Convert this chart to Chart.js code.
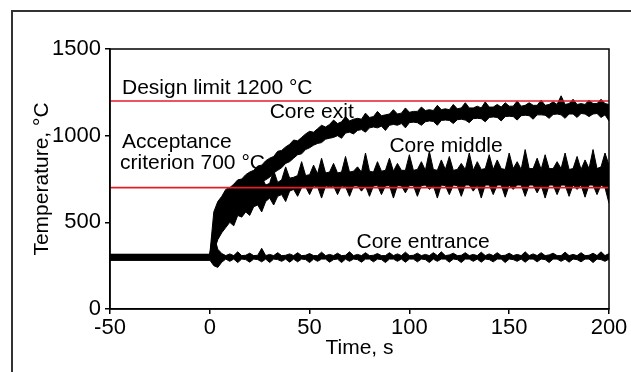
<!DOCTYPE html>
<html>
<head>
<meta charset="utf-8">
<script src="https://cdn.jsdelivr.net/npm/chart.js@4.4.0/dist/chart.umd.min.js"></script>
<style>
  html, body { margin: 0; padding: 0; background: #fff; }
  canvas { display: block; }
</style>
</head>
<body>
<canvas id="chart" width="631" height="372"></canvas>
<script>
// time axis, s (first point is the steady state before the transient)
const time = [
  -50, 0,
  2, 4, 6, 8, 10, 12, 14, 16, 18, 20,
  22, 24, 26, 28, 30, 32, 34, 36, 38, 40,
  42, 44, 46, 48, 50, 52, 54, 56, 58, 60,
  62, 64, 66, 68, 70, 72, 74, 76, 78, 80,
  82, 84, 86, 88, 90, 92, 94, 96, 98, 100,
  102, 104, 106, 108, 110, 112, 114, 116, 118, 120,
  122, 124, 126, 128, 130, 132, 134, 136, 138, 140,
  142, 144, 146, 148, 150, 152, 154, 156, 158, 160,
  162, 164, 166, 168, 170, 172, 174, 176, 178, 180,
  182, 184, 186, 188, 190, 192, 194, 196, 198, 200
];

// upper / lower envelope of the temperature traces, °C
const exitHigh = [
  315, 315,
  560, 620, 650, 690, 700, 720, 745, 750, 775, 790,
  800, 825, 830, 855, 870, 880, 910, 915, 935, 950,
  975, 970, 990, 1010, 1025, 1020, 1040, 1060, 1050, 1065,
  1090, 1070, 1080, 1110, 1085, 1095, 1100, 1095, 1130, 1105,
  1110, 1140, 1115, 1120, 1125, 1150, 1125, 1130, 1160, 1135,
  1140, 1140, 1165, 1145, 1150, 1145, 1175, 1150, 1155, 1150,
  1180, 1155, 1160, 1190, 1160, 1160, 1170, 1160, 1195, 1165,
  1165, 1180, 1165, 1190, 1170, 1170, 1200, 1170, 1175, 1190,
  1175, 1175, 1205, 1175, 1180, 1195, 1180, 1230, 1180, 1185,
  1210, 1180, 1185, 1180, 1205, 1185, 1185, 1210, 1185, 1180
];
const exitLow = [
  282, 282,
  400, 450, 480, 520, 550, 570, 595, 620, 640, 670,
  690, 700, 730, 745, 760, 785, 800, 815, 840, 850,
  870, 890, 895, 920, 930, 945, 955, 960, 980, 985,
  990, 1000, 985, 1015, 1020, 1010, 1030, 1035, 1020, 1045,
  1050, 1045, 1055, 1030, 1060, 1065, 1060, 1070, 1045, 1075,
  1078, 1075, 1060, 1080, 1085, 1082, 1060, 1088, 1090, 1088,
  1070, 1092, 1095, 1090, 1075, 1098, 1100, 1098, 1080, 1105,
  1108, 1105, 1085, 1110, 1112, 1110, 1090, 1115, 1118, 1115,
  1095, 1120, 1120, 1118, 1100, 1122, 1125, 1120, 1100, 1125,
  1125, 1105, 1128, 1125, 1110, 1125, 1128, 1105, 1120, 1085
];
const middleHigh = [
  315, 315,
  470, 530, 560, 610, 600, 660, 640, 700, 670, 730,
  690, 700, 760, 715, 725, 800, 730, 745, 820, 755,
  760, 770, 850, 770, 775, 830, 780, 870, 785, 790,
  840, 785, 790, 880, 790, 795, 820, 790, 900, 795,
  790, 850, 795, 800, 870, 795, 840, 800, 800, 890,
  800, 805, 850, 800, 910, 805, 800, 860, 805, 880,
  800, 805, 840, 805, 900, 800, 850, 805, 810, 890,
  805, 860, 810, 805, 900, 810, 850, 805, 920, 810,
  810, 870, 805, 890, 810, 810, 850, 810, 900, 805,
  810, 880, 805, 860, 810, 920, 810, 820, 900, 830
];
const middleLow = [
  282, 282,
  330, 400, 440, 470, 500, 480, 540, 530, 560, 540,
  590, 600, 560, 620, 640, 600, 650, 660, 620, 680,
  690, 650, 700, 705, 660, 710, 705, 640, 710, 705,
  710, 660, 710, 705, 650, 710, 710, 680, 710, 650,
  710, 712, 660, 710, 712, 640, 712, 710, 670, 712,
  712, 650, 712, 715, 690, 712, 640, 715, 712, 660,
  715, 712, 650, 715, 715, 680, 715, 640, 715, 715,
  660, 715, 715, 645, 715, 690, 715, 715, 650, 715,
  715, 670, 715, 640, 715, 715, 660, 715, 715, 650,
  715, 690, 715, 645, 715, 715, 660, 715, 700, 610
];
const entranceHigh = [
  315, 315,
  430, 345, 320, 308, 318, 308, 330, 308, 310, 322,
  308, 310, 350, 308, 315, 308, 325, 308, 310, 318,
  308, 325, 308, 310, 320, 308, 308, 328, 308, 315,
  308, 322, 308, 310, 330, 308, 315, 308, 325, 308,
  310, 320, 308, 308, 325, 308, 318, 308, 328, 308,
  310, 322, 308, 315, 308, 325, 308, 330, 308, 312,
  322, 308, 310, 325, 308, 315, 308, 328, 308, 318,
  308, 325, 308, 310, 322, 308, 315, 308, 330, 308,
  318, 308, 325, 308, 312, 322, 308, 308, 328, 308,
  315, 308, 325, 308, 310, 322, 308, 330, 308, 320
];
const entranceLow = [
  282, 282,
  250, 240, 270, 288, 275, 288, 268, 288, 285, 270,
  288, 285, 272, 288, 268, 288, 285, 275, 288, 270,
  288, 272, 288, 285, 268, 288, 275, 288, 288, 270,
  285, 288, 268, 288, 275, 288, 285, 270, 288, 288,
  272, 288, 285, 268, 288, 288, 275, 288, 270, 288,
  288, 272, 288, 285, 268, 288, 275, 288, 288, 270,
  288, 285, 268, 288, 288, 275, 288, 270, 288, 285,
  272, 288, 288, 268, 288, 285, 275, 288, 270, 288,
  288, 272, 288, 285, 268, 288, 288, 275, 288, 270,
  288, 285, 272, 288, 288, 268, 288, 285, 275, 288
];

const designLimit = 1200;
const acceptance = 700;

// text notes, anchored in data units (time, temperature)
const notes = [
  { text: 'Design limit 1200 °C', t: -44, v: 1240 },
  { text: 'Core exit', t: 30, v: 1100 },
  { text: 'Acceptance', t: -44, v: 929 },
  { text: 'criterion 700 °C', t: -45, v: 810 },
  { text: 'Core middle', t: 90, v: 908 },
  { text: 'Core entrance', t: 73.5, v: 350 }
];

const FONT = '"Liberation Sans", Arial, Helvetica, sans-serif';
Chart.defaults.font.family = FONT;
Chart.defaults.color = '#000';

const toPoints = values => values.map((v, i) => ({ x: time[i], y: v }));
const flat = v => [{ x: time[0], y: v }, { x: time[time.length - 1], y: v }];

// a noisy trace drawn as a filled band between its two envelopes
const band = (high, low) => [
  {
    data: toPoints(high),
    borderColor: '#000',
    backgroundColor: '#000',
    borderWidth: 1,
    fill: '+1'
  },
  {
    data: toPoints(low),
    borderColor: '#000',
    borderWidth: 1,
    fill: false
  }
];

const decorations = {
  id: 'decorations',
  beforeDraw(chart) {
    const ctx = chart.ctx;
    ctx.save();
    ctx.strokeStyle = '#333';
    ctx.lineWidth = 2;
    ctx.strokeRect(12, 11, 700, 500);
    ctx.restore();
  },
  afterDatasetsDraw(chart) {
    const { ctx, chartArea: a, scales: { x, y } } = chart;
    ctx.save();
    ctx.strokeStyle = '#000';
    ctx.lineWidth = 1.5;
    ctx.strokeRect(a.left, a.top, a.right - a.left, a.bottom - a.top);
    ctx.fillStyle = '#000';
    ctx.font = '21px ' + FONT;
    ctx.textAlign = 'left';
    ctx.textBaseline = 'alphabetic';
    notes.forEach(n => {
      ctx.fillText(n.text, x.getPixelForValue(n.t), y.getPixelForValue(n.v));
    });
    ctx.restore();
  }
};

new Chart(document.getElementById('chart'), {
  type: 'line',
  data: {
    datasets: [
      { data: flat(designLimit), borderColor: '#e41e26', borderWidth: 1.6, fill: false },
      { data: flat(acceptance), borderColor: '#e41e26', borderWidth: 1.6, fill: false },
      ...band(exitHigh, exitLow),
      ...band(middleHigh, middleLow),
      ...band(entranceHigh, entranceLow)
    ]
  },
  options: {
    responsive: false,
    animation: false,
    layout: { padding: { top: 49, right: 22, left: 0, bottom: 0 } },
    elements: { point: { radius: 0 }, line: { tension: 0, borderJoinStyle: 'miter' } },
    plugins: { legend: { display: false }, tooltip: { enabled: false } },
    scales: {
      x: {
        type: 'linear',
        min: -50,
        max: 200,
        ticks: { stepSize: 50, padding: 1, font: { size: 22 }, maxRotation: 0, callback: v => String(v) },
        grid: { drawOnChartArea: false, tickLength: 5, color: '#000', lineWidth: 1.5 },
        border: { color: '#000', width: 1.5 },
        title: { display: true, text: 'Time, s', font: { size: 21 }, padding: { bottom: 11, top: 0 } },
        afterFit(scale) { scale.height = 63; }
      },
      y: {
        min: 0,
        max: 1500,
        ticks: { stepSize: 500, padding: 4, font: { size: 22 }, callback: v => String(v) },
        grid: { drawOnChartArea: false, tickLength: 5, color: '#000', lineWidth: 1.5 },
        border: { color: '#000', width: 1.5 },
        title: { display: true, text: 'Temperature, °C', font: { size: 21 }, padding: { top: 30, bottom: 0 } },
        afterFit(scale) { scale.width = 110; }
      }
    }
  },
  plugins: [decorations]
});
</script>
</body>
</html>
